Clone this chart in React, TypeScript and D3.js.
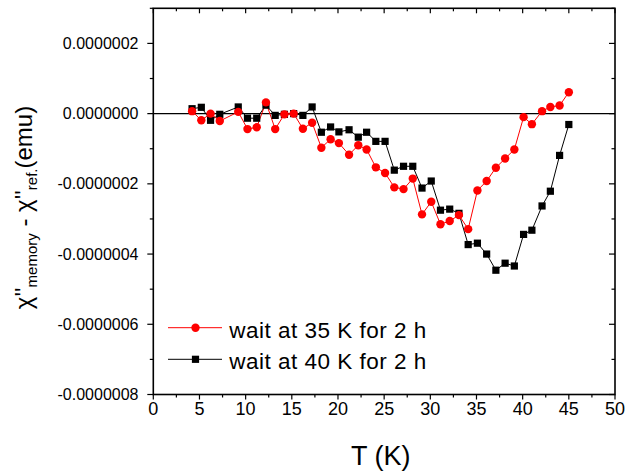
import React from 'react';
import * as d3 from 'd3';

// temperatures (K) and chi'' differences (emu)
const temps = [4.2, 5.2, 6.2, 7.2, 9.2, 10.2, 11.2, 12.2, 13.2, 14.2, 15.2, 16.2, 17.2, 18.2, 19.2, 20.1, 21.2, 22.2, 23.1, 24.1, 25.1, 26.1, 27.1, 28.1, 29.1, 30.1, 31.1, 32.1, 33.1, 34.1, 35.1, 36.1, 37.1, 38.1, 39.1, 40.1, 41, 42.1, 43, 44, 45];
const wait35 = [0.07e-7, -0.19e-7, 0, -0.21e-7, 0.05e-7, -0.44e-7, -0.39e-7, 0.32e-7, -0.44e-7, -0.02e-7, 0, -0.43e-7, -0.26e-7, -0.97e-7, -0.73e-7, -0.84e-7, -1.17e-7, -0.9e-7, -1.02e-7, -1.53e-7, -1.69e-7, -2.1e-7, -2.15e-7, -1.85e-7, -2.87e-7, -2.51e-7, -3.15e-7, -3.06e-7, -2.89e-7, -3.29e-7, -2.19e-7, -1.92e-7, -1.54e-7, -1.28e-7, -1.02e-7, -0.1e-7, -0.3e-7, 0.07e-7, 0.19e-7, 0.23e-7, 0.61e-7];
const wait40 = [0.14e-7, 0.18e-7, -0.19e-7, -0.02e-7, 0.19e-7, -0.13e-7, -0.13e-7, 0.24e-7, -0.05e-7, -0.02e-7, 0, -0.05e-7, 0.19e-7, -0.53e-7, -0.38e-7, -0.52e-7, -0.46e-7, -0.67e-7, -0.53e-7, -0.79e-7, -0.79e-7, -1.61e-7, -1.5e-7, -1.5e-7, -2.12e-7, -1.92e-7, -2.75e-7, -2.72e-7, -2.84e-7, -3.73e-7, -3.69e-7, -4.0e-7, -4.46e-7, -4.26e-7, -4.34e-7, -3.44e-7, -3.32e-7, -2.63e-7, -2.21e-7, -1.19e-7, -0.31e-7];
const seriesNames = ['wait at 35 K for 2 h', 'wait at 40 K for 2 h'];
const xTicks = [0, 5, 10, 15, 20, 25, 30, 35, 40, 45, 50];
const yTicks = [-8e-7, -6e-7, -4e-7, -2e-7, 0, 2e-7];

const W = 636;
const H = 472;
const m = { left: 153.3, right: 615, top: 8.3, bottom: 394.5 };
const font = 'Liberation Sans, Arial, sans-serif';

// plain hyphen for negatives, like the original plot
const fmt = d3.formatLocale({ decimal: '.', thousands: ',', grouping: [3], currency: ['$', ''], minus: '-' }).format('.7f');

const App = () => {
  const x = d3.scaleLinear().domain([0, 50]).range([m.left, m.right]);
  const y = d3.scaleLinear().domain([-8e-7, 3e-7]).range([m.bottom, m.top]);
  const xMinor = d3.range(0, 50.01, 2.5);
  const yMinor = d3.range(-8e-7, 3.01e-7, 1e-7);

  const pts35 = temps.map((t, i) => [t, wait35[i]] as [number, number]);
  const pts40 = temps.map((t, i) => [t, wait40[i]] as [number, number]);
  const line = d3.line<[number, number]>().x(d => x(d[0])).y(d => y(d[1]));

  const isMajorX = (v: number) => Math.abs(v % 5) < 1e-6;
  const isMajorY = (v: number) => Math.abs(Math.round(v / 1e-7)) % 2 === 0;

  return (
    <svg width={W} height={H} style={{ position: 'absolute', left: 0, top: 0 }} fontFamily={font}>
      <rect width={W} height={H} fill="#fff" />
      {/* zero line */}
      <line x1={m.left} x2={m.right} y1={y(0)} y2={y(0)} stroke="#000" strokeWidth={1.4} />

      {/* ticks */}
      {xMinor.map(v => {
        const len = isMajorX(v) ? 5 : 3;
        return (
          <g key={'x' + v}>
            <line x1={x(v)} x2={x(v)} y1={m.bottom} y2={m.bottom + len} stroke="#000" strokeWidth={1.2} />
            <line x1={x(v)} x2={x(v)} y1={m.top} y2={m.top + len} stroke="#000" strokeWidth={1.2} />
          </g>
        );
      })}
      {yMinor.map(v => {
        const len = isMajorY(v) ? 6 : 3.5;
        return (
          <g key={'y' + v}>
            <line x1={m.left - len} x2={m.left} y1={y(v)} y2={y(v)} stroke="#000" strokeWidth={1.2} />
            <line x1={m.right - len} x2={m.right} y1={y(v)} y2={y(v)} stroke="#000" strokeWidth={1.2} />
          </g>
        );
      })}
      {xTicks.map(v => (
        <text key={'xl' + v} x={x(v)} y={415} textAnchor="middle" fontSize={18}>{v}</text>
      ))}
      {yTicks.map(v => (
        <text key={'yl' + v} x={138.5} y={y(v)} dy="0.35em" textAnchor="end" fontSize={16}>{fmt(v)}</text>
      ))}

      {/* frame */}
      <rect x={m.left} y={m.top} width={m.right - m.left} height={m.bottom - m.top} fill="none" stroke="#000" strokeWidth={1.6} />

      {/* series */}
      <path d={line(pts40) || ''} fill="none" stroke="#000" strokeWidth={1} />
      <path d={line(pts35) || ''} fill="none" stroke="#f00" strokeWidth={1} />
      {pts40.map((d, i) => (
        <rect key={'s' + i} x={x(d[0]) - 3.6} y={y(d[1]) - 3.6} width={7.2} height={7.2} fill="#000" />
      ))}
      {pts35.map((d, i) => (
        <circle key={'c' + i} cx={x(d[0])} cy={y(d[1])} r={4.2} fill="#f00" />
      ))}

      {/* legend */}
      <line x1={168} x2={222} y1={327.7} y2={327.7} stroke="#f00" strokeWidth={1} />
      <circle cx={195.5} cy={327.7} r={4.2} fill="#f00" />
      <text x={229.3} y={338} fontSize={22.5} textLength={197} lengthAdjust="spacing">{seriesNames[0]}</text>
      <line x1={168} x2={222} y1={359.3} y2={359.3} stroke="#000" strokeWidth={1} />
      <rect x={195.5 - 3.6} y={359.3 - 3.6} width={7.2} height={7.2} fill="#000" />
      <text x={229.3} y={369.3} fontSize={22.5} textLength={197} lengthAdjust="spacing">{seriesNames[1]}</text>

      {/* axis titles */}
      <text x={380.7} y={465} textAnchor="middle" fontSize={27}>T (K)</text>
      <text transform="translate(32,207.5) rotate(-90)" textAnchor="middle" fontSize={24}>
        χ''<tspan fontSize={15} dy={5}>memory</tspan>
        <tspan dy={-5}> - χ''</tspan>
        <tspan fontSize={15} dy={5}>ref.</tspan>
        <tspan dy={-5}>(emu)</tspan>
      </text>
    </svg>
  );
};

export default App;
